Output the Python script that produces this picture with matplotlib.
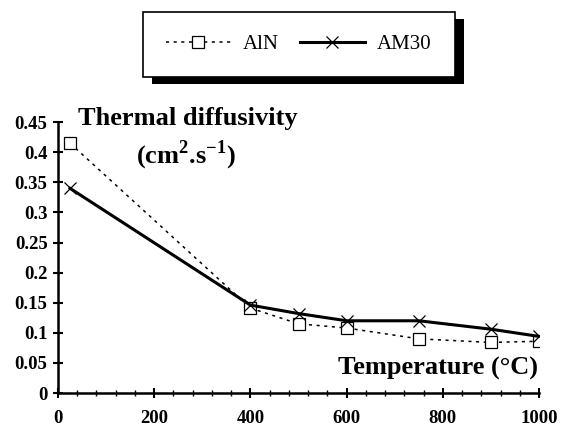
import numpy as np
import matplotlib.pyplot as plt
from matplotlib.ticker import FixedLocator, MultipleLocator
from matplotlib.patches import Rectangle

plt.rcParams['font.family'] = ['Liberation Serif', 'DejaVu Serif']
plt.rcParams['mathtext.fontset'] = 'custom'
plt.rcParams['mathtext.bf'] = 'Liberation Serif:bold'
plt.rcParams['mathtext.rm'] = 'Liberation Serif:bold'

# Data
temperature = [25, 400, 500, 600, 750, 900, 1000]
aln = [0.415, 0.141, 0.115, 0.108, 0.090, 0.084, 0.086]
am30 = [0.340, 0.146, 0.132, 0.120, 0.120, 0.106, 0.094]

y_ticks = [0, 0.05, 0.1, 0.15, 0.2, 0.25, 0.3, 0.35, 0.4, 0.45]
y_labels = ['0', '0.05', '0.1', '0.15', '0.2', '0.25', '0.3', '0.35', '0.4', '0.45']
x_ticks = [0, 200, 400, 600, 800, 1000]

fig = plt.figure(figsize=(5.61, 4.30), dpi=100)
ax = fig.add_axes([0.1034, 0.086, 0.8576, 0.630])

l1, = ax.plot(temperature, aln, linestyle=(0, (2, 3)), color='black', lw=1.1,
              marker='s', markersize=8, markerfacecolor='white',
              markeredgecolor='black', markeredgewidth=0.9, label='AlN')
l2, = ax.plot(temperature, am30, linestyle='-', color='black', lw=2.2,
              marker='x', markersize=9, markeredgewidth=0.9, label='AM30')

ax.set_xlim(0, 1000)
ax.set_ylim(0, 0.45)
ax.xaxis.set_major_locator(FixedLocator(x_ticks))
ax.xaxis.set_minor_locator(MultipleLocator(40))
ax.set_yticks(y_ticks)
ax.set_yticklabels(y_labels)

for s in ['top', 'right']:
    ax.spines[s].set_visible(False)
for s in ['left', 'bottom']:
    ax.spines[s].set_linewidth(1.8)

ax.tick_params(axis='both', which='major', direction='inout', length=7, width=1.5,
               labelsize=13.5, pad=4)
ax.tick_params(axis='x', which='minor', direction='inout', length=4, width=1.0)
ax.tick_params(axis='x', pad=9)
for lab in ax.get_xticklabels() + ax.get_yticklabels():
    lab.set_fontweight('bold')

ax.text(0.269, 1.015, 'Thermal diffusivity', transform=ax.transAxes,
        ha='center', va='center', fontsize=19, fontweight='bold')
ax.text(0.267, 0.878, '(cm$^{\\mathbf{2}}$.s$^{\\mathbf{-1}}$)', transform=ax.transAxes,
        ha='center', va='center', fontsize=19, fontweight='bold')
ax.text(0.998, 0.092, 'Temperature (°C)', transform=ax.transAxes,
        ha='right', va='center', fontsize=19, fontweight='bold')

leg = fig.legend(handles=[l1, l2], loc='center', bbox_to_anchor=(0.533, 0.8965),
                 ncol=2, frameon=True, fancybox=False, framealpha=1,
                 edgecolor='black', fontsize=15, handlelength=3.1, columnspacing=1.0,
                 borderpad=1.1, handletextpad=0.6)
leg.get_frame().set_linewidth(1.2)
leg.set_zorder(5)

# offset shadow behind the legend box
fig.canvas.draw()
bb = leg.get_frame().get_window_extent()
fig.patches.append(Rectangle((bb.x0 + 9, bb.y0 - 7), bb.width, bb.height,
                             transform=None, facecolor='black', edgecolor='none',
                             zorder=1, figure=fig))

fig.savefig('out.png', dpi=100)
